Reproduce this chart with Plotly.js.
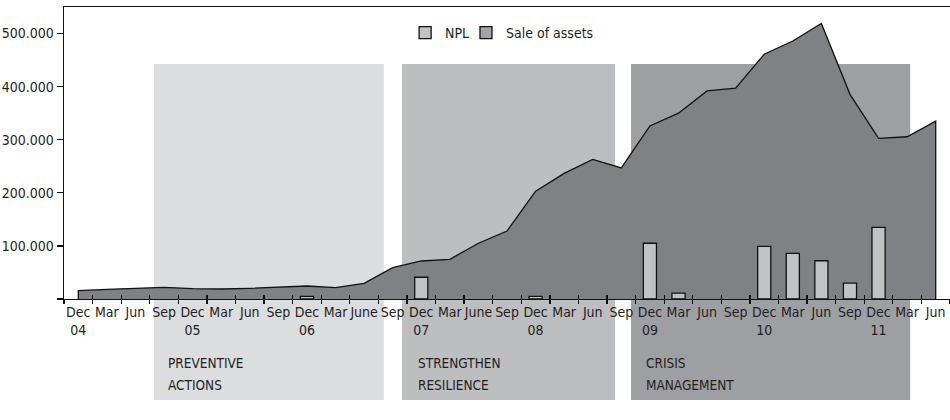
<!DOCTYPE html>
<html>
<head>
<meta charset="utf-8">
<script src="https://cdn.plot.ly/plotly-3.0.1.min.js"></script>
<style>html,body{margin:0;padding:0;background:#fff;}#chart{width:950px;height:420px;}
.main-svg text{font-stretch:condensed;}</style>
</head>
<body>
<div id="chart"></div>
<script>
const categories = ["Dec 04","Mar 05","Jun 05","Sep 05","Dec 05","Mar 06","Jun 06","Sep 06","Dec 06","Mar 07","Jun 07","Sep 07","Dec 07","Mar 08","Jun 08","Sep 08","Dec 08","Mar 09","Jun 09","Sep 09","Dec 09","Mar 10","Jun 10","Sep 10","Dec 10","Mar 11","Jun 11","Sep 11","Dec 11","Mar 12","Jun 12"];
const tickLabels = ["Dec<br>04","Mar","Jun","Sep","Dec<br>05","Mar","Jun","Sep","Dec<br>06","Mar","June","Sep","Dec<br>07","Mar","June","Sep","Dec<br>08","Mar","Jun","Sep","Dec<br>09","Mar","Jun","Sep","Dec<br>10","Mar","Jun","Sep","Dec<br>11","Mar","Jun"];
const saleOfAssets = [15600,18300,20700,22000,19400,18800,20000,22000,24500,21300,29600,59000,71600,74800,105000,128000,203000,236700,263000,247000,326000,350000,392000,397000,461000,486000,519000,385500,302600,305600,335000];
const npl = [null,null,null,null,null,null,null,null,5000,null,null,null,41000,null,null,null,5000,null,null,null,105000,11000,null,null,99000,86000,72000,30000,135000,null,null];
const yTickVals = [0,100000,200000,300000,400000,500000];
const yTickText = ["","100.000","200.000","300.000","400.000","500.000"];
const phases = ["PREVENTIVE<br>ACTIONS","STRENGTHEN<br>RESILIENCE","CRISIS<br>MANAGEMENT"];
const phaseColors = ["#dcdddf","#bdbec0","#9e9fa3"];

const FONT = "DejaVu Sans Condensed, DejaVu Sans, sans-serif";
const TXT = "#231f20";
const last = categories.length - 1;

const traces = [
  {
    type: "bar", name: "NPL", x: categories, y: npl, xaxis: "x2", yaxis: "y2",
    width: 0.46, legend: "legend",
    marker: {color: "#c1c2c4", line: {color: "#111", width: 1.3}}
  },
  {
    type: "bar", name: "Sale of assets", x: [null], y: [null], xaxis: "x2", yaxis: "y2",
    legend: "legend2",
    marker: {color: "#a3a4a7", line: {color: "#111", width: 1.3}}
  },
  {
    type: "scatter", mode: "lines", name: "Sale of assets", showlegend: false,
    x: [categories[0]].concat(categories, [categories[last]]),
    y: [0].concat(saleOfAssets, [0]),
    fill: "toself", fillcolor: "#808185",
    line: {color: "#111", width: 1.3},
    xaxis: "x", yaxis: "y"
  }
];

const rng = [-0.5, categories.length - 0.5];
const phaseX = [[0.1016, 0.361], [0.3815, 0.622], [0.640, 0.955]];
const shapes = phaseX.map((p, i) => ({
  type: "rect", xref: "paper", yref: "paper", x0: p[0], x1: p[1], y0: -0.346, y1: 0.805,
  fillcolor: phaseColors[i], line: {width: 0}, layer: "below"
}));
const annX = [0.115, 0.397, 0.6546];
const lineY = [-0.219, -0.2945];
const annotations = [];
phases.forEach((t, i) => {
  t.split("<br>").forEach((ln, j) => {
    annotations.push({
      text: ln, xref: "paper", yref: "paper", x: annX[i], y: lineY[j], xanchor: "left", yanchor: "middle",
      align: "left", showarrow: false, font: {family: FONT, size: 13.5, color: TXT}
    });
  });
});

const legendBase = {orientation: "h", xanchor: "left", y: 0.911, yanchor: "middle", itemwidth: 30,
  bgcolor: "rgba(0,0,0,0)", font: {family: FONT, size: 14, color: TXT}};

const layout = {
  width: 950, height: 420,
  margin: {l: 64, r: 0, t: 7, b: 121},
  paper_bgcolor: "#fff", plot_bgcolor: "rgba(0,0,0,0)",
  font: {family: FONT, size: 14, color: TXT},
  showlegend: true,
  legend: Object.assign({}, legendBase, {x: 0.385}),
  legend2: Object.assign({}, legendBase, {x: 0.4537}),
  xaxis: {
    type: "category", range: rng, tickmode: "array", tickvals: categories, ticktext: tickLabels,
    tickangle: 0,
    tickson: "boundaries", ticks: "outside", ticklen: 4, tickwidth: 1.3, tickcolor: "#111",
    showline: true, linecolor: "#111", linewidth: 1.3, mirror: true,
    showgrid: false, zeroline: false, tickfont: {family: FONT, size: 14, color: TXT}, fixedrange: true
  },
  xaxis2: {
    type: "category", overlaying: "x", range: rng, tickmode: "array", tickvals: categories,
    tickson: "boundaries", ticks: "inside", ticklen: 4, tickwidth: 1.3, tickcolor: "#111",
    showticklabels: false, showline: false, showgrid: false, zeroline: false, fixedrange: true
  },
  yaxis: {
    range: [0, 550000], tickmode: "array", tickvals: yTickVals, ticktext: yTickText,
    ticks: "outside", ticklen: 6, tickwidth: 1.3, tickcolor: "#111",
    showline: true, linecolor: "#111", linewidth: 1.3,
    showgrid: false, zeroline: false, tickfont: {family: FONT, size: 14, color: TXT}, fixedrange: true
  },
  yaxis2: {
    overlaying: "y", range: [0, 550000], visible: false, showgrid: false, zeroline: false, fixedrange: true
  },
  shapes: shapes,
  annotations: annotations
};

Plotly.newPlot("chart", traces, layout, {displayModeBar: false, staticPlot: true});
</script>
</body>
</html>
